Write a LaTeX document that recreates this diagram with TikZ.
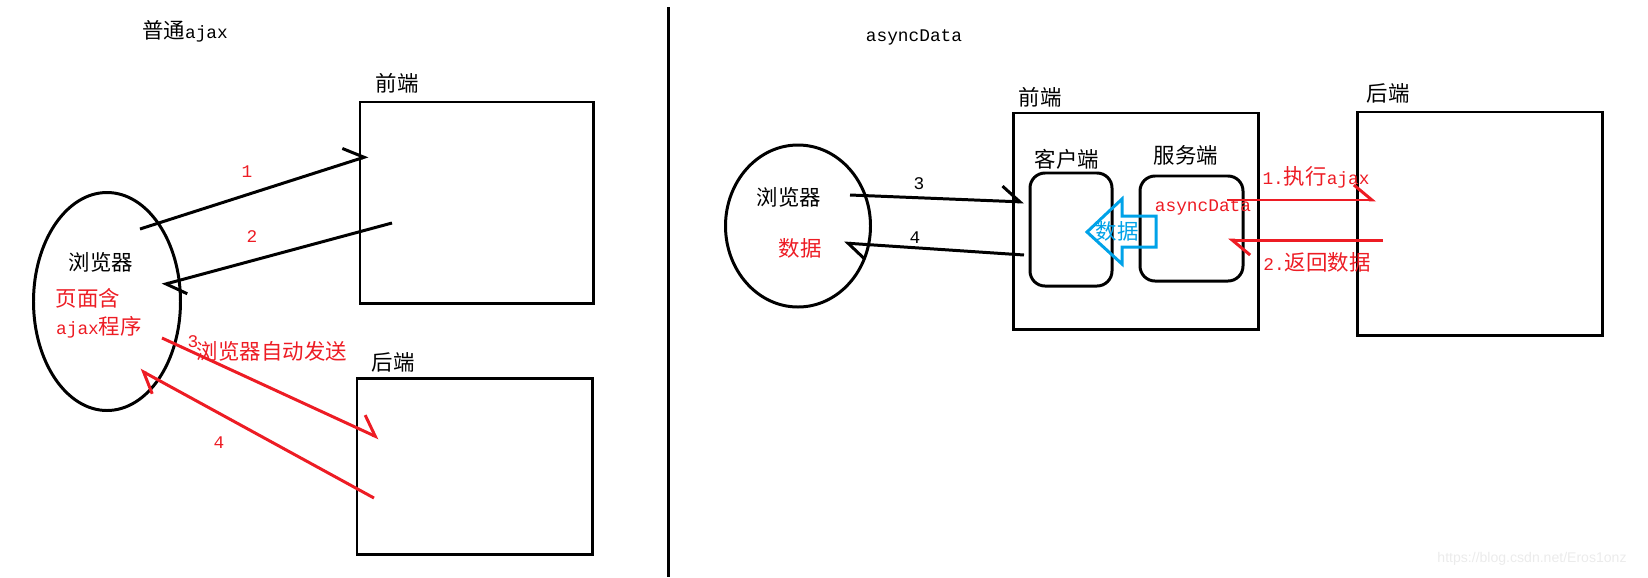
\documentclass[tikz,border=0pt]{standalone}
\usepackage{fontspec}
\setmainfont{Noto Sans CJK SC}
\newfontfamily\mono{Liberation Mono}[Scale=0.83]
\newfontfamily\wmfont{Liberation Sans}
\usetikzlibrary{arrows.meta,shapes.geometric}
\definecolor{pred}{HTML}{ED1C24}
\definecolor{pblue}{HTML}{00A2E8}
\begin{document}
\begin{tikzpicture}[
  box/.style={draw, line width=1.7pt, inner sep=0pt},
  rbox/.style={box, rounded corners=0.3cm},
  oval/.style={draw, ellipse, line width=1.7pt, inner sep=0pt},
  txt/.style={inner sep=0pt, font=\fontsize{12.2}{14}\selectfont},
  arr/.style={line width=1.7pt, -{Straight Barb[left, length=0.36cm, width=0.6cm]}},
  rarr/.style={arr, pred}
]
\useasboundingbox (0,0) rectangle (32.96,-11.54);
% left half
\node[txt] (ltitle) at (3.70,-0.62) {普通{\mono ajax}};
\node[oval, minimum width=2.94cm, minimum height=4.36cm] (lbrowser) at (2.14,-6.03) {};
\node[txt] (lbname) at (2.02,-5.24) {浏览器};
\node[txt, text=pred] (lpage) at (1.76,-5.96) {页面含};
\node[txt, text=pred] (lprog) at (1.98,-6.54) {{\mono ajax}程序};
\node[box, minimum width=4.66cm, minimum height=4.02cm] (lfront) at (9.53,-4.05) {};
\node[txt] (lfrontname) at (7.94,-1.66) {前端};
\node[box, minimum width=4.70cm, minimum height=3.52cm] (lback) at (9.49,-9.32) {};
\node[txt] (lbackname) at (7.86,-7.24) {后端};
\coordinate (l1s) at (2.80,-4.58);
\coordinate (l1e) at (7.36,-3.12);
\coordinate (l2s) at (7.84,-4.46);
\coordinate (l2e) at (3.24,-5.70);
\coordinate (l3s) at (3.24,-6.76);
\coordinate (l3e) at (7.58,-8.76);
\coordinate (l4s) at (7.48,-9.96);
\coordinate (l4e) at (2.80,-7.40);
\draw[arr] (l1s) -- (l1e);
\draw[arr] (l2s) -- (l2e);
\draw[rarr] (l3s) -- (l3e);
\draw[rarr] (l4s) -- (l4e);
\node[txt, text=pred] (lone) at (4.94,-3.44) {\mono 1};
\node[txt, text=pred] (ltwo) at (5.04,-4.74) {\mono 2};
\node[txt, text=pred] (lthree) at (3.86,-6.84) {\mono 3};
\node[txt, text=pred] (lauto) at (5.44,-7.02) {浏览器自动发送};
\node[txt, text=pred] (lfour) at (4.38,-8.86) {\mono 4};
\draw[line width=1.7pt] (13.36,-0.14) -- (13.36,-11.54);
% right half
\node[txt] (rtitle) at (18.28,-0.74) {\mono asyncData};
\node[oval, minimum width=2.90cm, minimum height=3.24cm] (rbrowser) at (15.96,-4.52) {};
\node[txt] (rbname) at (15.78,-3.94) {浏览器};
\node[txt, text=pred] (rdata) at (16.00,-4.96) {数据};
\node[box, minimum width=4.90cm, minimum height=4.32cm] (rfront) at (22.71,-4.42) {};
\node[txt] (rfrontname) at (20.80,-1.94) {前端};
\node[rbox, minimum width=1.64cm, minimum height=2.26cm] (client) at (21.42,-4.59) {};
\node[txt] (clientname) at (21.34,-3.18) {客户端};
\node[rbox, minimum width=2.06cm, minimum height=2.10cm] (server) at (23.83,-4.57) {};
\node[txt] (servername) at (23.72,-3.10) {服务端};
\node[txt, text=pred] (sasync) at (24.06,-4.14) {\mono asyncData};
\node[box, minimum width=4.90cm, minimum height=4.46cm] (rback) at (29.59,-4.47) {};
\node[txt] (rbackname) at (27.76,-1.86) {后端};
\draw[pblue, line width=1.7pt] (21.74,-4.64) -- (22.44,-3.98) -- (22.44,-4.32) -- (23.12,-4.32)
  -- (23.12,-4.94) -- (22.44,-4.94) -- (22.44,-5.28) -- cycle;
\node[txt, text=pblue] (bdata) at (22.34,-4.62) {数据};
\coordinate (r3s) at (17.00,-3.90);
\coordinate (r3e) at (20.48,-4.04);
\coordinate (r4s) at (20.48,-5.10);
\coordinate (r4e) at (16.88,-4.86);
\coordinate (r1s) at (24.54,-4.00);
\coordinate (r1e) at (27.52,-4.00);
\coordinate (r2s) at (27.66,-4.80);
\coordinate (r2e) at (24.56,-4.80);
\draw[arr] (r3s) -- (r3e);
\draw[arr] (r4s) -- (r4e);
\draw[rarr] (r1s) -- (r1e);
\draw[rarr] (r2s) -- (r2e);
\node[txt] (rthree) at (18.38,-3.68) {\mono 3};
\node[txt] (rfour) at (18.30,-4.76) {\mono 4};
\node[txt, text=pred] (rexec) at (26.32,-3.54) {{\mono 1.}执行{\mono ajax}};
\node[txt, text=pred] (rret) at (26.34,-5.24) {{\mono 2.}返回数据};
\node[inner sep=0pt, text=black!8, font=\wmfont\fontsize{8}{10}\selectfont] (mark) at (30.64,-11.18) {https://blog.csdn.net/Eros1onz};
\end{tikzpicture}
\end{document}
